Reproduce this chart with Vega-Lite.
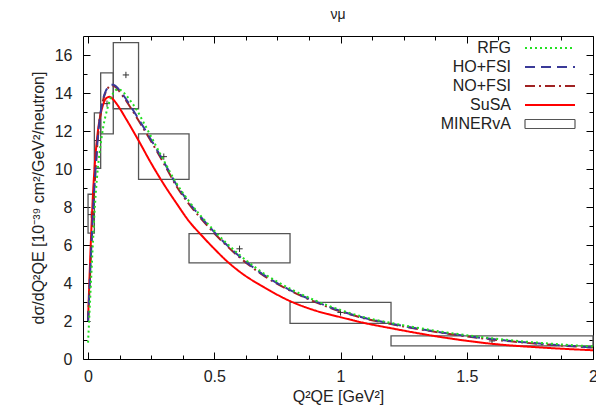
{
  "$schema": "https://vega.github.io/schema/vega-lite/v6.json",
  "autosize": "none",
  "width": 510,
  "height": 323,
  "padding": {"left": 83, "top": 36, "right": 3, "bottom": 61},
  "background": "white",
  "config": {
    "view": {"stroke": "#000", "strokeWidth": 1},
    "font": "Liberation Sans",
    "axis": {"labelFont": "Liberation Sans", "titleFont": "Liberation Sans", "labelFontSize": 16, "titleFontSize": 16, "titleFontWeight": "normal", "labelColor": "#222", "titleColor": "#222", "zindex": 1}
  },
  "title": {"text": "νμ", "fontSize": 14, "fontWeight": "normal", "font": "Liberation Sans", "offset": 14, "color": "#222"},
  "datasets": {
    "curves": [
      {"x": 0, "y": 2.0, "model": "SuSA"},
      {"x": 0.005, "y": 4.0, "model": "SuSA"},
      {"x": 0.01, "y": 5.8, "model": "SuSA"},
      {"x": 0.015, "y": 7.4, "model": "SuSA"},
      {"x": 0.02, "y": 8.8, "model": "SuSA"},
      {"x": 0.025, "y": 9.9, "model": "SuSA"},
      {"x": 0.03, "y": 10.8, "model": "SuSA"},
      {"x": 0.04, "y": 12.1, "model": "SuSA"},
      {"x": 0.05, "y": 12.9, "model": "SuSA"},
      {"x": 0.06, "y": 13.4, "model": "SuSA"},
      {"x": 0.07, "y": 13.7, "model": "SuSA"},
      {"x": 0.085, "y": 13.8, "model": "SuSA"},
      {"x": 0.1, "y": 13.65, "model": "SuSA"},
      {"x": 0.12, "y": 13.3, "model": "SuSA"},
      {"x": 0.15, "y": 12.65, "model": "SuSA"},
      {"x": 0.2, "y": 11.5, "model": "SuSA"},
      {"x": 0.25, "y": 10.3, "model": "SuSA"},
      {"x": 0.3, "y": 9.2, "model": "SuSA"},
      {"x": 0.35, "y": 8.2, "model": "SuSA"},
      {"x": 0.4, "y": 7.25, "model": "SuSA"},
      {"x": 0.45, "y": 6.5, "model": "SuSA"},
      {"x": 0.5, "y": 5.8, "model": "SuSA"},
      {"x": 0.55, "y": 5.15, "model": "SuSA"},
      {"x": 0.6, "y": 4.6, "model": "SuSA"},
      {"x": 0.7, "y": 3.75, "model": "SuSA"},
      {"x": 0.8, "y": 3.05, "model": "SuSA"},
      {"x": 0.9, "y": 2.55, "model": "SuSA"},
      {"x": 1.0, "y": 2.2, "model": "SuSA"},
      {"x": 1.1, "y": 1.88, "model": "SuSA"},
      {"x": 1.2, "y": 1.62, "model": "SuSA"},
      {"x": 1.4, "y": 1.15, "model": "SuSA"},
      {"x": 1.6, "y": 0.8, "model": "SuSA"},
      {"x": 1.8, "y": 0.6, "model": "SuSA"},
      {"x": 2.0, "y": 0.46, "model": "SuSA"},

      {"x": 0, "y": 2.0, "model": "NO+FSI"},
      {"x": 0.01, "y": 5.0, "model": "NO+FSI"},
      {"x": 0.02, "y": 7.8, "model": "NO+FSI"},
      {"x": 0.03, "y": 10.0, "model": "NO+FSI"},
      {"x": 0.04, "y": 11.8, "model": "NO+FSI"},
      {"x": 0.05, "y": 12.95, "model": "NO+FSI"},
      {"x": 0.06, "y": 13.65, "model": "NO+FSI"},
      {"x": 0.07, "y": 14.05, "model": "NO+FSI"},
      {"x": 0.08, "y": 14.28, "model": "NO+FSI"},
      {"x": 0.09, "y": 14.38, "model": "NO+FSI"},
      {"x": 0.1, "y": 14.38, "model": "NO+FSI"},
      {"x": 0.11, "y": 14.3, "model": "NO+FSI"},
      {"x": 0.12, "y": 14.15, "model": "NO+FSI"},
      {"x": 0.14, "y": 13.8, "model": "NO+FSI"},
      {"x": 0.17, "y": 13.2, "model": "NO+FSI"},
      {"x": 0.2, "y": 12.55, "model": "NO+FSI"},
      {"x": 0.25, "y": 11.45, "model": "NO+FSI"},
      {"x": 0.3, "y": 10.3, "model": "NO+FSI"},
      {"x": 0.35, "y": 9.1, "model": "NO+FSI"},
      {"x": 0.4, "y": 8.15, "model": "NO+FSI"},
      {"x": 0.45, "y": 7.35, "model": "NO+FSI"},
      {"x": 0.5, "y": 6.62, "model": "NO+FSI"},
      {"x": 0.55, "y": 5.95, "model": "NO+FSI"},
      {"x": 0.6, "y": 5.35, "model": "NO+FSI"},
      {"x": 0.7, "y": 4.35, "model": "NO+FSI"},
      {"x": 0.8, "y": 3.6, "model": "NO+FSI"},
      {"x": 0.9, "y": 3.0, "model": "NO+FSI"},
      {"x": 1.0, "y": 2.5, "model": "NO+FSI"},
      {"x": 1.1, "y": 2.12, "model": "NO+FSI"},
      {"x": 1.2, "y": 1.84, "model": "NO+FSI"},
      {"x": 1.4, "y": 1.38, "model": "NO+FSI"},
      {"x": 1.6, "y": 1.03, "model": "NO+FSI"},
      {"x": 1.8, "y": 0.78, "model": "NO+FSI"},
      {"x": 2.0, "y": 0.6, "model": "NO+FSI"},

      {"x": 0, "y": 2.0, "model": "HO+FSI"},
      {"x": 0.01, "y": 5.0, "model": "HO+FSI"},
      {"x": 0.02, "y": 7.85, "model": "HO+FSI"},
      {"x": 0.03, "y": 10.05, "model": "HO+FSI"},
      {"x": 0.04, "y": 11.85, "model": "HO+FSI"},
      {"x": 0.05, "y": 13.0, "model": "HO+FSI"},
      {"x": 0.06, "y": 13.7, "model": "HO+FSI"},
      {"x": 0.07, "y": 14.1, "model": "HO+FSI"},
      {"x": 0.08, "y": 14.33, "model": "HO+FSI"},
      {"x": 0.09, "y": 14.43, "model": "HO+FSI"},
      {"x": 0.1, "y": 14.43, "model": "HO+FSI"},
      {"x": 0.11, "y": 14.36, "model": "HO+FSI"},
      {"x": 0.12, "y": 14.22, "model": "HO+FSI"},
      {"x": 0.14, "y": 13.88, "model": "HO+FSI"},
      {"x": 0.17, "y": 13.28, "model": "HO+FSI"},
      {"x": 0.2, "y": 12.63, "model": "HO+FSI"},
      {"x": 0.25, "y": 11.53, "model": "HO+FSI"},
      {"x": 0.3, "y": 10.38, "model": "HO+FSI"},
      {"x": 0.35, "y": 9.18, "model": "HO+FSI"},
      {"x": 0.4, "y": 8.22, "model": "HO+FSI"},
      {"x": 0.45, "y": 7.42, "model": "HO+FSI"},
      {"x": 0.5, "y": 6.68, "model": "HO+FSI"},
      {"x": 0.55, "y": 6.0, "model": "HO+FSI"},
      {"x": 0.6, "y": 5.4, "model": "HO+FSI"},
      {"x": 0.7, "y": 4.39, "model": "HO+FSI"},
      {"x": 0.8, "y": 3.63, "model": "HO+FSI"},
      {"x": 0.9, "y": 3.03, "model": "HO+FSI"},
      {"x": 1.0, "y": 2.53, "model": "HO+FSI"},
      {"x": 1.1, "y": 2.14, "model": "HO+FSI"},
      {"x": 1.2, "y": 1.86, "model": "HO+FSI"},
      {"x": 1.4, "y": 1.4, "model": "HO+FSI"},
      {"x": 1.6, "y": 1.05, "model": "HO+FSI"},
      {"x": 1.8, "y": 0.8, "model": "HO+FSI"},
      {"x": 2.0, "y": 0.61, "model": "HO+FSI"},

      {"x": 0, "y": 0.86, "model": "RFG"},
      {"x": 0.01, "y": 3.6, "model": "RFG"},
      {"x": 0.02, "y": 6.3, "model": "RFG"},
      {"x": 0.03, "y": 8.6, "model": "RFG"},
      {"x": 0.04, "y": 10.2, "model": "RFG"},
      {"x": 0.05, "y": 11.3, "model": "RFG"},
      {"x": 0.06, "y": 12.2, "model": "RFG"},
      {"x": 0.075, "y": 13.1, "model": "RFG"},
      {"x": 0.09, "y": 13.75, "model": "RFG"},
      {"x": 0.1, "y": 14.0, "model": "RFG"},
      {"x": 0.11, "y": 14.15, "model": "RFG"},
      {"x": 0.12, "y": 14.2, "model": "RFG"},
      {"x": 0.13, "y": 14.15, "model": "RFG"},
      {"x": 0.15, "y": 13.9, "model": "RFG"},
      {"x": 0.17, "y": 13.55, "model": "RFG"},
      {"x": 0.19, "y": 13.17, "model": "RFG"},
      {"x": 0.22, "y": 12.45, "model": "RFG"},
      {"x": 0.25, "y": 11.7, "model": "RFG"},
      {"x": 0.3, "y": 10.45, "model": "RFG"},
      {"x": 0.35, "y": 9.25, "model": "RFG"},
      {"x": 0.4, "y": 8.3, "model": "RFG"},
      {"x": 0.45, "y": 7.48, "model": "RFG"},
      {"x": 0.5, "y": 6.75, "model": "RFG"},
      {"x": 0.55, "y": 6.08, "model": "RFG"},
      {"x": 0.6, "y": 5.48, "model": "RFG"},
      {"x": 0.7, "y": 4.47, "model": "RFG"},
      {"x": 0.8, "y": 3.7, "model": "RFG"},
      {"x": 0.9, "y": 3.08, "model": "RFG"},
      {"x": 1.0, "y": 2.58, "model": "RFG"},
      {"x": 1.1, "y": 2.18, "model": "RFG"},
      {"x": 1.2, "y": 1.9, "model": "RFG"},
      {"x": 1.4, "y": 1.44, "model": "RFG"},
      {"x": 1.6, "y": 1.09, "model": "RFG"},
      {"x": 1.8, "y": 0.84, "model": "RFG"},
      {"x": 2.0, "y": 0.66, "model": "RFG"}
    ],
    "minerva": [
      {"x0": 0.0, "x1": 0.025, "xc": 0.0125, "yc": 7.6, "lo": 6.62, "hi": 8.67, "model": "MINERvA"},
      {"x0": 0.025, "x1": 0.05, "xc": 0.0375, "yc": 11.5, "lo": 10.04, "hi": 12.95, "model": "MINERvA"},
      {"x0": 0.05, "x1": 0.1, "xc": 0.075, "yc": 13.44, "lo": 11.85, "hi": 15.06, "model": "MINERvA"},
      {"x0": 0.1, "x1": 0.2, "xc": 0.15, "yc": 14.95, "lo": 13.17, "hi": 16.65, "model": "MINERvA"},
      {"x0": 0.2, "x1": 0.4, "xc": 0.3, "yc": 10.65, "lo": 9.45, "hi": 11.85, "model": "MINERvA"},
      {"x0": 0.4, "x1": 0.8, "xc": 0.6, "yc": 5.8, "lo": 5.06, "hi": 6.6, "model": "MINERvA"},
      {"x0": 0.8, "x1": 1.2, "xc": 1.0, "yc": 2.45, "lo": 1.87, "hi": 2.98, "model": "MINERvA"},
      {"x0": 1.2, "x1": 2.0, "xc": 1.6, "yc": 0.95, "lo": 0.69, "hi": 1.22, "model": "MINERvA"}
    ]
  },
  "resolve": {"axis": {"x": "independent", "y": "independent"}},
  "layer": [
    {
      "data": {"name": "minerva"},
      "mark": {"type": "rect", "filled": false, "strokeWidth": 1.3},
      "encoding": {
        "x": {"field": "x0", "type": "quantitative", "scale": {"domain": [-0.02, 2], "nice": false, "zero": false},
          "axis": {"orient": "bottom", "title": "Q²QE [GeV²]", "values": [0,0.125,0.25,0.375,0.5,0.625,0.75,0.875,1,1.125,1.25,1.375,1.5,1.625,1.75,1.875,2], "format": "~g", "labelExpr": "datum.value % 0.5 === 0 ? datum.label : ''", "domain": false, "ticks": false,
            "grid": true, "gridColor": "#000", "gridOpacity": 1, "gridWidth": 1,
            "gridDash": {"condition": {"test": "datum.value % 0.5 === 0", "value": [7, 309]}, "value": [4, 315]},
            "labelPadding": 9, "titlePadding": 4, "labelFlush": false, "labelOverlap": false}},
        "x2": {"field": "x1"},
        "y": {"field": "lo", "type": "quantitative", "scale": {"domain": [0, 17], "nice": false},
          "axis": {"orient": "left", "title": "dσ/dQ²QE [10⁻³⁹ cm²/GeV²/neutron]", "values": [0,0.5,1,1.5,2,2.5,3,3.5,4,4.5,5,5.5,6,6.5,7,7.5,8,8.5,9,9.5,10,10.5,11,11.5,12,12.5,13,13.5,14,14.5,15,15.5,16,16.5], "format": "d", "labelExpr": "datum.value % 2 === 0 ? datum.label : ''", "domain": false, "ticks": false,
            "grid": true, "gridColor": "#000", "gridOpacity": 1, "gridWidth": 1,
            "gridDash": {"condition": {"test": "datum.value % 2 === 0", "value": [7, 496]}, "value": [4, 502]},
            "labelPadding": 11, "titlePadding": 8, "labelFlush": false, "labelOverlap": false}},
        "y2": {"field": "hi"},
        "color": {"field": "model", "type": "nominal",
          "scale": {"domain": ["RFG", "HO+FSI", "NO+FSI", "SuSA", "MINERvA"], "range": ["#22e022", "#3a3a98", "#a02222", "#ff0000", "#555555"]},
          "legend": {"orient": "none", "legendX": 459, "legendY": 4, "title": null, "labelFont": "Liberation Sans", "labelFontSize": 16, "labelColor": "#222", "labelAlign": "right", "labelOffset": -47, "symbolSize": 100, "rowPadding": 3, "padding": 0,
            "encode": {"symbols": {"update": {
              "shape": {"signal": "datum.value === 'MINERvA' ? 'M-5,-0.9H5V0.9H-5Z' : 'M-5,0H5'"},
              "strokeWidth": {"signal": "datum.value === 'MINERvA' ? 1.2 : 2"},
              "strokeDash": {"signal": "datum.value === 'RFG' ? [2,3] : datum.value === 'HO+FSI' ? [10,6] : datum.value === 'NO+FSI' ? [10,4,2,4] : [1,0]"},
              "fill": {"value": "transparent"}}}}}
        }
      }
    },
    {
      "data": {"name": "minerva"},
      "mark": {"type": "point", "shape": "M-1,0H1M0,-1V1", "size": 40, "filled": false, "stroke": "#333", "strokeWidth": 1, "opacity": 1},
      "encoding": {
        "x": {"field": "xc", "type": "quantitative", "axis": null},
        "y": {"field": "yc", "type": "quantitative", "axis": null}
      }
    },
    {
      "data": {"name": "curves"},
      "mark": {"type": "line", "strokeWidth": 2, "interpolate": "monotone", "clip": true},
      "encoding": {
        "x": {"field": "x", "type": "quantitative", "axis": null},
        "y": {"field": "y", "type": "quantitative", "axis": null},
        "color": {"field": "model", "type": "nominal",
          "scale": {"domain": ["RFG", "HO+FSI", "NO+FSI", "SuSA", "MINERvA"], "range": ["#22e022", "#3a3a98", "#a02222", "#ff0000", "#555555"]}},
        "strokeDash": {"field": "model", "type": "nominal", "legend": null,
          "scale": {"domain": ["RFG", "HO+FSI", "NO+FSI", "SuSA", "MINERvA"], "range": [[2, 3], [10, 6], [10, 4, 2, 4], [1, 0], [1, 0]]}},
        "order": {"field": "x", "type": "quantitative"}
      }
    }
  ]
}
